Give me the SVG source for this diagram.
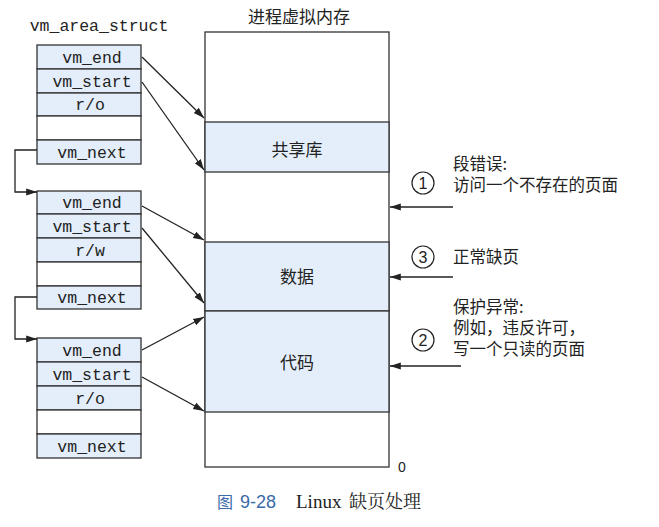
<svg xmlns="http://www.w3.org/2000/svg" width="659" height="527" viewBox="0 0 659 527">
<defs>
<marker id="ah" viewBox="0 0 12 10" refX="12" refY="5" markerWidth="11" markerHeight="9" markerUnits="userSpaceOnUse" orient="auto">
<path d="M0,1 L12,5 L0,9 z" fill="#222"/>
</marker>
<style>
.cell{fill:#e3eefa;stroke:#333;stroke-width:1.3}
.empty{fill:#ffffff;stroke:#333;stroke-width:1.3}
.mono{font-family:"Liberation Mono","DejaVu Sans Mono",monospace;font-size:16.5px;fill:#222;text-anchor:middle}
.cjk{font-family:"Noto Sans CJK SC","Noto Sans",sans-serif;font-size:17px;fill:#222}
.side{font-family:"Noto Sans CJK SC","Noto Sans",sans-serif;font-size:16.5px;fill:#222}
.conn{fill:none;stroke:#222;stroke-width:1.3;marker-end:url(#ah)}
.circ{fill:none;stroke:#222;stroke-width:1.2}
.num{font-family:"Liberation Sans","DejaVu Sans",sans-serif;font-size:16px;fill:#222;text-anchor:middle}
</style>
</defs>
<rect width="659" height="527" fill="#ffffff"/>

<text x="99" y="31" class="mono">vm_area_struct</text>

<g id="struct1">
<rect x="37" y="45" width="104" height="24" class="cell"/>
<rect x="37" y="69" width="104" height="24" class="cell"/>
<rect x="37" y="93" width="104" height="23" class="cell"/>
<rect x="37" y="116" width="104" height="24" class="empty"/>
<rect x="37" y="140" width="104" height="24" class="cell"/>
<text x="92" y="63" class="mono">vm_end</text>
<text x="92" y="87" class="mono">vm_start</text>
<text x="90" y="110" class="mono">r/o</text>
<text x="92" y="158" class="mono">vm_next</text>
</g>

<g id="struct2">
<rect x="37" y="191" width="104" height="23" class="cell"/>
<rect x="37" y="214" width="104" height="24" class="cell"/>
<rect x="37" y="238" width="104" height="24" class="cell"/>
<rect x="37" y="262" width="104" height="24" class="empty"/>
<rect x="37" y="286" width="104" height="23" class="cell"/>
<text x="92" y="208" class="mono">vm_end</text>
<text x="92" y="232" class="mono">vm_start</text>
<text x="90" y="256" class="mono">r/w</text>
<text x="92" y="303" class="mono">vm_next</text>
</g>

<g id="struct3">
<rect x="37" y="338" width="104" height="24" class="cell"/>
<rect x="37" y="362" width="104" height="24" class="cell"/>
<rect x="37" y="386" width="104" height="24" class="cell"/>
<rect x="37" y="410" width="104" height="24" class="empty"/>
<rect x="37" y="434" width="104" height="24" class="cell"/>
<text x="92" y="356" class="mono">vm_end</text>
<text x="92" y="380" class="mono">vm_start</text>
<text x="90" y="404" class="mono">r/o</text>
<text x="92" y="452" class="mono">vm_next</text>
</g>

<g id="memory">
<text x="299" y="23" class="cjk" text-anchor="middle">进程虚拟内存</text>
<rect x="205" y="32" width="184" height="435" fill="#ffffff" stroke="#333" stroke-width="1.3"/>
<rect x="205" y="122" width="184" height="50" class="cell"/>
<rect x="205" y="242" width="184" height="69" class="cell"/>
<rect x="205" y="311" width="184" height="101" class="cell"/>
<text x="297" y="156" class="cjk" text-anchor="middle">共享库</text>
<text x="297" y="283" class="cjk" text-anchor="middle">数据</text>
<text x="297" y="369" class="cjk" text-anchor="middle">代码</text>
<text x="402" y="472" font-family="Liberation Sans, sans-serif" font-size="14" fill="#222" text-anchor="middle">0</text>
</g>

<g id="fault1">
<circle cx="423" cy="183" r="11" class="circ"/>
<text x="423" y="189" class="num">1</text>
<text x="453" y="170" class="side">段错误:</text>
<text x="453" y="191" class="side">访问一个不存在的页面</text>
</g>
<g id="fault3">
<circle cx="423" cy="257" r="11" class="circ"/>
<text x="423" y="263" class="num">3</text>
<text x="453" y="263" class="side">正常缺页</text>
</g>
<g id="fault2">
<circle cx="423" cy="340" r="11" class="circ"/>
<text x="423" y="346" class="num">2</text>
<text x="453" y="313" class="side">保护异常:</text>
<text x="453" y="334" class="side">例如，违反许可，</text>
<text x="453" y="355" class="side">写一个只读的页面</text>
</g>

<g id="connectors">
<path d="M37,150 H15 V192 H37" class="conn"/>
<path d="M37,297 H15 V339 H37" class="conn"/>
<path d="M142,57 L204,118" class="conn"/>
<path d="M142,82 L204,170" class="conn"/>
<path d="M142,206 L204,240" class="conn"/>
<path d="M142,228 L204,303" class="conn"/>
<path d="M142,350 L204,317" class="conn"/>
<path d="M142,377 L204,411" class="conn"/>
<path d="M453,207 H390" class="conn"/>
<path d="M453,277 H390" class="conn"/>
<path d="M461,366 H390" class="conn"/>
</g>

<g id="caption">
<text x="217" y="508" font-family="Noto Sans CJK SC, sans-serif" font-size="16" fill="#3a6aa8">图</text>
<text x="240" y="508" font-family="Liberation Sans, sans-serif" font-size="18" fill="#3a6aa8">9-28</text>
<text x="296" y="508" font-family="Liberation Serif, serif" font-size="19" fill="#222">Linux</text>
<text x="349" y="508" font-family="Noto Serif CJK SC, Noto Sans CJK SC, serif" font-size="18" fill="#222">缺页处理</text>
</g>
</svg>
